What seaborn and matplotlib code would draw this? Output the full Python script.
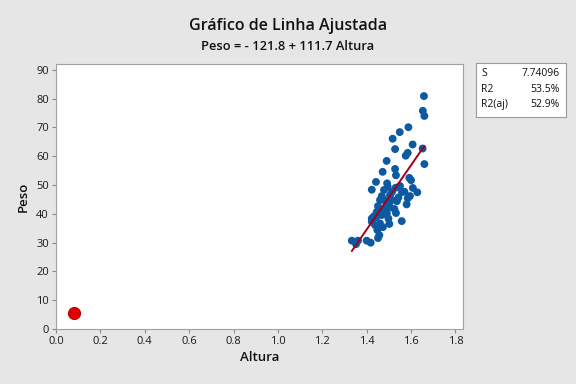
import matplotlib
matplotlib.use("Agg")
import matplotlib.pyplot as plt
import seaborn as sns
import numpy as np
import pandas as pd

# ---- data ----
altura = [1.658, 1.653, 1.660, 1.588, 1.549, 1.517, 1.607, 1.652, 1.528, 1.585,
          1.576, 1.490, 1.660, 1.528, 1.472, 1.532, 1.592, 1.600, 1.442, 1.492,
          1.531, 1.423, 1.495, 1.570, 1.628, 1.468, 1.505, 1.543, 1.585, 1.460,
          1.580, 1.490, 1.525, 1.445, 1.468, 1.498, 1.558, 1.423, 1.423, 1.460,
          1.502, 1.448, 1.457, 1.333, 1.352, 1.400, 1.418, 1.361, 1.478, 1.514,
          1.483, 1.451, 1.473, 1.491, 1.438, 1.473, 1.433, 1.505, 1.536, 1.559,
          1.514, 1.442, 1.451, 1.550, 1.608, 1.532, 1.478, 1.595]
peso = [80.9, 75.8, 74.0, 70.1, 68.4, 66.1, 64.1, 62.7, 62.5, 61.2,
        60.2, 58.4, 57.3, 55.6, 54.6, 53.4, 52.5, 51.7, 51.1, 50.6,
        49.1, 48.4, 49.4, 47.7, 47.5, 46.2, 46.5, 45.7, 45.4, 44.8,
        43.3, 43.6, 41.7, 40.7, 39.6, 38.4, 37.5, 38.4, 37.3, 36.7,
        36.5, 34.4, 32.6, 30.7, 29.5, 30.7, 30.0, 30.7, 48.3, 47.6,
        42.0, 42.7, 40.6, 40.3, 36.1, 35.4, 39.2, 42.4, 44.4, 47.6,
        44.8, 38.8, 31.6, 49.7, 49.0, 40.3, 44.8, 46.2]
outlier_altura = [0.079]
outlier_peso = [5.6]
intercept = -121.8
slope = 111.7
stat_names = ["S", "R2", "R2(aj)"]
stat_values = ["7.74096", "53.5%", "52.9%"]
x_ticks = [0.0, 0.2, 0.4, 0.6, 0.8, 1.0, 1.2, 1.4, 1.6, 1.8]
y_ticks = [0, 10, 20, 30, 40, 50, 60, 70, 80, 90]

sns.set_theme(style="white")
plt.rcParams["font.family"] = ["Open Sans", "DejaVu Sans"]

bg = "#e6e6e6"
fig = plt.figure(figsize=(5.76, 3.84), dpi=100, facecolor=bg)
ax = fig.add_axes([0.0972, 0.143, 0.707, 0.690])
ax.set_facecolor("white")

df = pd.DataFrame({"Altura": altura, "Peso": peso})
sns.scatterplot(data=df, x="Altura", y="Peso", ax=ax, color="#0b5aa2",
                s=32, edgecolor="none", zorder=3)
sns.scatterplot(x=outlier_altura, y=outlier_peso, ax=ax, color="#e10000",
                s=75, edgecolor="#c00000", linewidth=0.8, zorder=3)

xl = np.array([min(altura), max(altura)])
ax.plot(xl, intercept + slope * xl, color="#a0001a", lw=1.4, zorder=4)

ax.set_xlim(0, 1.835)
ax.set_ylim(0, 92)
ax.set_xticks(x_ticks)
ax.set_xticklabels([f"{v:.1f}" for v in x_ticks])
ax.set_yticks(y_ticks)
ax.tick_params(axis="both", which="major", direction="out", length=3, width=0.8,
               color="#8a8a8a", labelsize=8, labelcolor="#1a1a1a", pad=2)
ax.tick_params(axis="x", bottom=True)
ax.tick_params(axis="y", left=True)
for sp in ax.spines.values():
    sp.set_color("#a0a0a0")
    sp.set_linewidth(0.8)

ax.set_xlabel("Altura", fontsize=9.5, fontweight="semibold", color="#111111", labelpad=3)
ax.set_ylabel("Peso", fontsize=9.5, fontweight="semibold", color="#111111", labelpad=5)

fig.text(0.5, 0.932, "Gráfico de Linha Ajustada", ha="center", va="center",
         fontsize=11.5, fontweight="semibold", color="#111111")
fig.text(0.5, 0.878, "Peso = - 121.8 + 111.7 Altura", ha="center", va="center",
         fontsize=9.3, fontweight="semibold", color="#111111")

# stats box
bax = fig.add_axes([0.826, 0.695, 0.157, 0.141])
bax.set_facecolor("white")
bax.set_xticks([]); bax.set_yticks([])
bax.set_xlim(0, 1); bax.set_ylim(0, 1)
for sp in bax.spines.values():
    sp.set_color("#9a9a9a")
    sp.set_linewidth(0.8)
rows_y = [0.80, 0.51, 0.23]
for name, val, yy in zip(stat_names, stat_values, rows_y):
    bax.text(0.06, yy, name, ha="left", va="center", fontsize=7.5, color="#111111")
    bax.text(0.93, yy, val, ha="right", va="center", fontsize=7.5, color="#111111")

fig.savefig("out.png", dpi=100, facecolor=bg)
